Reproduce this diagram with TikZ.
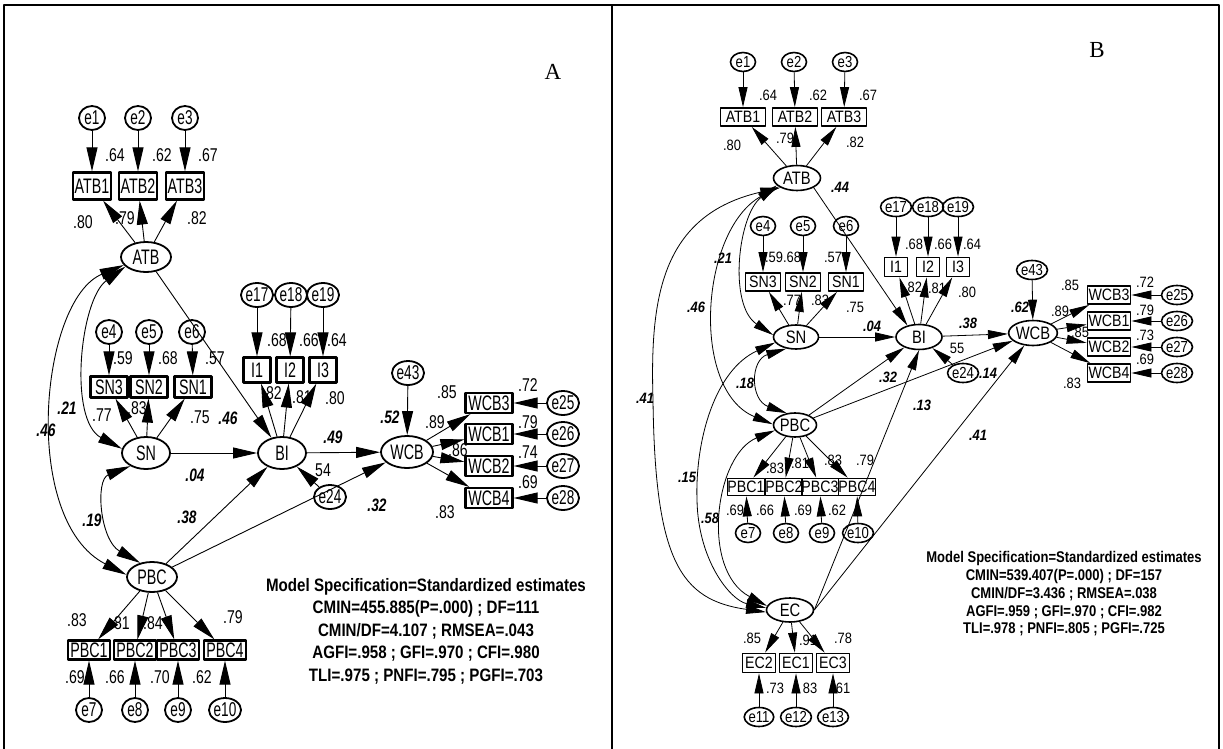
\documentclass[tikz,border=0pt]{standalone}
\usepackage{fontspec}
\setmainfont{Liberation Sans}
\newfontfamily\fa[FakeStretch=0.76]{Liberation Sans}
\newfontfamily\fan[FakeStretch=0.68]{Liberation Sans}
\newfontfamily\fb[FakeStretch=0.86]{Liberation Sans}
\newfontfamily\fbn[FakeStretch=0.82]{Liberation Sans}
\newfontfamily\ft[FakeStretch=0.84]{Liberation Sans}
\newfontfamily\fser{Liberation Serif}
\usetikzlibrary{arrows.meta,shapes.geometric}
\tikzset{
  errA/.style={ellipse,draw,line width=1.8pt,inner sep=0pt,minimum width=26pt,minimum height=24pt,font={\fan\fontsize{20}{20}\selectfont}},
  boxA/.style={rectangle,draw,line width=2.2pt,inner sep=0pt,font={\fan\fontsize{21}{21}\selectfont}},
  latA/.style={ellipse,draw,line width=1.8pt,inner sep=0pt,font={\fan\fontsize{21}{21}\selectfont}},
  numA/.style={inner sep=0pt,font={\fa\fontsize{18.5}{18.5}\selectfont}},
  coefA/.style={inner sep=0pt,font={\fa\bfseries\itshape\fontsize{18}{18}\selectfont}},
  arrA/.style={line width=0.9pt,-{Triangle[length=24pt,width=11pt]}},
  covA/.style={line width=0.9pt,{Triangle[length=24pt,width=11pt]}-{Triangle[length=24pt,width=11pt]}},
  errB/.style={ellipse,draw,line width=1.6pt,inner sep=0pt,minimum width=25pt,minimum height=19pt,font={\fbn\fontsize{16}{16}\selectfont}},
  boxB/.style={rectangle,draw,line width=1.8pt,inner sep=0pt,font={\fb\fontsize{16.5}{16.5}\selectfont}},
  latB/.style={ellipse,draw,line width=1.6pt,inner sep=0pt,font={\fbn\fontsize{18}{18}\selectfont}},
  numB/.style={inner sep=0pt,font={\fb\fontsize{15}{15}\selectfont}},
  coefB/.style={inner sep=0pt,font={\fb\bfseries\itshape\fontsize{15}{15}\selectfont}},
  arrB/.style={line width=0.8pt,-{Triangle[length=20pt,width=9pt]}},
  covB/.style={line width=0.8pt,{Triangle[length=20pt,width=9pt]}-{Triangle[length=20pt,width=9pt]}},
  txtA/.style={inner sep=0pt,font={\ft\bfseries\fontsize{18}{18}\selectfont}},
  txtB/.style={inner sep=0pt,font={\ft\bfseries\fontsize{15.5}{15.5}\selectfont}},
  panel/.style={inner sep=0pt,font={\fser\fontsize{23}{23}\selectfont}}
}
\begin{document}
\begin{tikzpicture}[x=1pt,y=-1pt,line join=round]
\useasboundingbox (0,0) rectangle (1223,749);
\fill[white] (0,0) rectangle (1223,749);
\draw[line width=1.6pt] (4,749) -- (4,5) -- (1219,5) -- (1219,749);
\draw[line width=1.6pt] (612,5) -- (612,749);

% ================= PANEL A =================
\node[panel] (aLab) at (553,72) {A};
\node[errA] (ae1) at (92,118) {e1};
\node[errA] (ae2) at (138,118) {e2};
\node[errA] (ae3) at (185,118) {e3};
\node[boxA,minimum width=38pt,minimum height=27pt] (aATB1) at (92,186) {ATB1};
\node[boxA,minimum width=38pt,minimum height=27pt] (aATB2) at (138,186) {ATB2};
\node[boxA,minimum width=38pt,minimum height=27pt] (aATB3) at (185,186) {ATB3};
\node[latA,minimum width=50pt,minimum height=30pt] (aATB) at (146,257) {ATB};
\node[errA] (ae4) at (109,332) {e4};
\node[errA] (ae5) at (149,332) {e5};
\node[errA] (ae6) at (192,332) {e6};
\node[boxA,minimum width=37pt,minimum height=21pt] (aSN3) at (109,387) {SN3};
\node[boxA,minimum width=37pt,minimum height=21pt] (aSN2) at (149,387) {SN2};
\node[boxA,minimum width=37pt,minimum height=21pt] (aSN1) at (193,387) {SN1};
\node[latA,minimum width=48pt,minimum height=32pt] (aSN) at (146,453) {SN};
\node[latA,minimum width=48pt,minimum height=32pt] (aBI) at (282,453) {BI};
\node[errA] (ae17) at (257,295) {e17};
\node[errA] (ae18) at (291,295) {e18};
\node[errA] (ae19) at (323,295) {e19};
\node[boxA,minimum width=27pt,minimum height=25pt] (aI1) at (257,370) {I1};
\node[boxA,minimum width=27pt,minimum height=25pt] (aI2) at (290,370) {I2};
\node[boxA,minimum width=27pt,minimum height=25pt] (aI3) at (323,370) {I3};
\node[errA] (ae43) at (408,373) {e43};
\node[latA,minimum width=52pt,minimum height=32pt] (aWCB) at (407,452) {WCB};
\node[boxA,minimum width=47pt,minimum height=20pt] (aWCB3) at (489,403) {WCB3};
\node[boxA,minimum width=47pt,minimum height=20pt] (aWCB1) at (489,434) {WCB1};
\node[boxA,minimum width=47pt,minimum height=20pt] (aWCB2) at (489,466) {WCB2};
\node[boxA,minimum width=47pt,minimum height=20pt] (aWCB4) at (489,498) {WCB4};
\node[errA] (ae25) at (563,403) {e25};
\node[errA] (ae26) at (563,434) {e26};
\node[errA] (ae27) at (563,466) {e27};
\node[errA] (ae28) at (563,498) {e28};
\node[errA] (ae24) at (330,497) {e24};
\node[latA,minimum width=50pt,minimum height=30pt] (aPBC) at (152,577) {PBC};
\node[boxA,minimum width=42pt,minimum height=19pt] (aPBC1) at (89,650) {PBC1};
\node[boxA,minimum width=42pt,minimum height=19pt] (aPBC2) at (135,650) {PBC2};
\node[boxA,minimum width=42pt,minimum height=19pt] (aPBC3) at (178,650) {PBC3};
\node[boxA,minimum width=42pt,minimum height=19pt] (aPBC4) at (225,650) {PBC4};
\node[errA] (ae7) at (89,710) {e7};
\node[errA] (ae8) at (135,710) {e8};
\node[errA] (ae9) at (178,710) {e9};
\node[errA] (ae10) at (225,710) {e10};

% arrows A
\draw[arrA] (ae1) -- (aATB1);
\draw[arrA] (ae2) -- (aATB2);
\draw[arrA] (ae3) -- (aATB3);
\draw[arrA] (aATB) -- (aATB1);
\draw[arrA] (aATB) -- (aATB2);
\draw[arrA] (aATB) -- (aATB3);
\draw[arrA] (ae4) -- (aSN3);
\draw[arrA] (ae5) -- (aSN2);
\draw[arrA] (ae6) -- (aSN1);
\draw[arrA] (aSN) -- (aSN3);
\draw[arrA] (aSN) -- (aSN2);
\draw[arrA] (aSN) -- (aSN1);
\draw[arrA] (ae17) -- (aI1);
\draw[arrA] (ae18) -- (aI2);
\draw[arrA] (ae19) -- (aI3);
\draw[arrA] (aBI) -- (aI1);
\draw[arrA] (aBI) -- (aI2);
\draw[arrA] (aBI) -- (aI3);
\draw[arrA] (aATB) -- (aBI);
\draw[arrA] (aSN) -- (aBI);
\draw[arrA] (aPBC) -- (aBI);
\draw[arrA] (ae24) -- (aBI);
\draw[arrA] (aBI) -- (aWCB);
\draw[arrA] (aPBC) -- (aWCB);
\draw[arrA] (ae43) -- (aWCB);
\draw[arrA] (aWCB) -- (aWCB3);
\draw[arrA] (aWCB) -- (aWCB1);
\draw[arrA] (aWCB) -- (aWCB2);
\draw[arrA] (aWCB) -- (aWCB4);
\draw[arrA] (ae25) -- (aWCB3);
\draw[arrA] (ae26) -- (aWCB1);
\draw[arrA] (ae27) -- (aWCB2);
\draw[arrA] (ae28) -- (aWCB4);
\draw[arrA] (aPBC) -- (aPBC1);
\draw[arrA] (aPBC) -- (aPBC2);
\draw[arrA] (aPBC) -- (aPBC3);
\draw[arrA] (aPBC) -- (aPBC4);
\draw[arrA] (ae7) -- (aPBC1);
\draw[arrA] (ae8) -- (aPBC2);
\draw[arrA] (ae9) -- (aPBC3);
\draw[arrA] (ae10) -- (aPBC4);
\draw[covA] (aATB.205) .. controls (80,300) and (68,420) .. (aSN.170);
\draw[covA] (aATB.200) .. controls (40,300) and (20,520) .. (aPBC.175);
\draw[covA] (aSN.220) .. controls (95,480) and (100,540) .. (aPBC.130);

% numbers A
\node[numA] (aN1) at (115,155) {.64};
\node[numA] (aN2) at (162,155) {.62};
\node[numA] (aN3) at (208,155) {.67};
\node[numA] (aN4) at (83,222) {.80};
\node[numA] (aN5) at (125,218) {.79};
\node[numA] (aN6) at (197,218) {.82};
\node[numA] (aN7) at (123,358) {.59};
\node[numA] (aN8) at (168,358) {.68};
\node[numA] (aN9) at (215,358) {.57};
\node[numA] (aN10) at (102,415) {.77};
\node[numA] (aN11) at (137,408) {.83};
\node[numA] (aN12) at (200,417) {.75};
\node[numA] (aN13) at (277,340) {.68};
\node[numA] (aN14) at (309,340) {.66};
\node[numA] (aN15) at (337,340) {.64};
\node[numA] (aN16) at (272,393) {.82};
\node[numA] (aN17) at (302,397) {.81};
\node[numA] (aN18) at (335,398) {.80};
\node[numA] (aN19) at (323,470) {54};
\node[numA] (aN20) at (447,392) {.85};
\node[numA] (aN21) at (435,422) {.89};
\node[numA] (aN22) at (458,450) {.86};
\node[numA] (aN23) at (445,512) {.83};
\node[numA] (aN24) at (528,385) {.72};
\node[numA] (aN25) at (528,422) {.79};
\node[numA] (aN26) at (528,452) {.74};
\node[numA] (aN27) at (528,482) {.69};
\node[numA] (aN28) at (77,620) {.83};
\node[numA] (aN29) at (120,623) {.81};
\node[numA] (aN30) at (153,623) {.84};
\node[numA] (aN31) at (233,617) {.79};
\node[numA] (aN32) at (75,677) {.69};
\node[numA] (aN33) at (115,677) {.66};
\node[numA] (aN34) at (160,677) {.70};
\node[numA] (aN35) at (202,677) {.62};
\node[coefA] (aC1) at (67,408) {.21};
\node[coefA] (aC2) at (228,418) {.46};
\node[coefA] (aC3) at (195,475) {.04};
\node[coefA] (aC4) at (333,437) {.49};
\node[coefA] (aC5) at (390,417) {.52};
\node[coefA] (aC6) at (377,505) {.32};
\node[coefA] (aC7) at (187,517) {.38};
\node[coefA] (aC8) at (92,520) {.19};
\node[coefA] (aC9) at (46,430) {.46};

\node[txtA] (aT1) at (426,587) {Model Specification=Standardized estimates};
\node[txtA] (aT2) at (426,609) {CMIN=455.885(P=.000) ; DF=111};
\node[txtA] (aT3) at (426,631) {CMIN/DF=4.107 ; RMSEA=.043};
\node[txtA] (aT4) at (426,654) {AGFI=.958 ; GFI=.970 ; CFI=.980};
\node[txtA] (aT5) at (426,677) {TLI=.975 ; PNFI=.795 ; PGFI=.703};

% ================= PANEL B =================
\node[panel] (bLab) at (1097,50) {B};
\node[errB] (be1) at (743,62) {e1};
\node[errB] (be2) at (794,62) {e2};
\node[errB] (be3) at (845,62) {e3};
\node[boxB,minimum width=45pt,minimum height=18pt] (bATB1) at (743,117) {ATB1};
\node[boxB,minimum width=45pt,minimum height=18pt] (bATB2) at (795,117) {ATB2};
\node[boxB,minimum width=45pt,minimum height=18pt] (bATB3) at (844,117) {ATB3};
\node[latB,minimum width=47pt,minimum height=25pt] (bATB) at (797,178) {ATB};
\node[errB] (be4) at (763,226) {e4};
\node[errB] (be5) at (803,226) {e5};
\node[errB] (be6) at (846,226) {e6};
\node[boxB,minimum width=35pt,minimum height=18pt] (bSN3) at (763,282) {SN3};
\node[boxB,minimum width=35pt,minimum height=18pt] (bSN2) at (803,282) {SN2};
\node[boxB,minimum width=35pt,minimum height=18pt] (bSN1) at (846,282) {SN1};
\node[latB,minimum width=45pt,minimum height=24pt] (bSN) at (796,337) {SN};
\node[errB] (be17) at (896,207) {e17};
\node[errB] (be18) at (928,207) {e18};
\node[errB] (be19) at (958,207) {e19};
\node[boxB,minimum width=23pt,minimum height=19pt] (bI1) at (896,267) {I1};
\node[boxB,minimum width=23pt,minimum height=19pt] (bI2) at (928,267) {I2};
\node[boxB,minimum width=23pt,minimum height=19pt] (bI3) at (958,267) {I3};
\node[latB,minimum width=46pt,minimum height=25pt] (bBI) at (919,337) {BI};
\node[errB] (be43) at (1032,270) {e43};
\node[latB,minimum width=47pt,minimum height=25pt] (bWCB) at (1033,333) {WCB};
\node[boxB,minimum width=43pt,minimum height=18pt] (bWCB3) at (1109,295) {WCB3};
\node[boxB,minimum width=43pt,minimum height=18pt] (bWCB1) at (1109,321) {WCB1};
\node[boxB,minimum width=43pt,minimum height=18pt] (bWCB2) at (1109,347) {WCB2};
\node[boxB,minimum width=43pt,minimum height=18pt] (bWCB4) at (1109,373) {WCB4};
\node[errB] (be25) at (1177,295) {e25};
\node[errB] (be26) at (1177,321) {e26};
\node[errB] (be27) at (1177,347) {e27};
\node[errB] (be28) at (1177,373) {e28};
\node[errB] (be24) at (963,373) {e24};
\node[latB,minimum width=43pt,minimum height=24pt] (bPBC) at (795,425) {PBC};
\node[boxB,minimum width=32pt,minimum height=17pt] (bPBC1) at (746,487) {PBC1};
\node[boxB,minimum width=32pt,minimum height=17pt] (bPBC2) at (784,487) {PBC2};
\node[boxB,minimum width=32pt,minimum height=17pt] (bPBC3) at (820,487) {PBC3};
\node[boxB,minimum width=32pt,minimum height=17pt] (bPBC4) at (857,487) {PBC4};
\node[errB] (be7) at (748,533) {e7};
\node[errB] (be8) at (786,533) {e8};
\node[errB] (be9) at (822,533) {e9};
\node[errB] (be10) at (858,533) {e10};
\node[latB,minimum width=47pt,minimum height=24pt] (bEC) at (790,610) {EC};
\node[boxB,minimum width=33pt,minimum height=19pt] (bEC2) at (759,663) {EC2};
\node[boxB,minimum width=33pt,minimum height=19pt] (bEC1) at (796,663) {EC1};
\node[boxB,minimum width=33pt,minimum height=19pt] (bEC3) at (833,663) {EC3};
\node[errB] (be11) at (759,717) {e11};
\node[errB] (be12) at (796,717) {e12};
\node[errB] (be13) at (833,717) {e13};

% arrows B
\draw[arrB] (be1) -- (bATB1);
\draw[arrB] (be2) -- (bATB2);
\draw[arrB] (be3) -- (bATB3);
\draw[arrB] (bATB) -- (bATB1);
\draw[arrB] (bATB) -- (bATB2);
\draw[arrB] (bATB) -- (bATB3);
\draw[arrB] (be4) -- (bSN3);
\draw[arrB] (be5) -- (bSN2);
\draw[arrB] (be6) -- (bSN1);
\draw[arrB] (bSN) -- (bSN3);
\draw[arrB] (bSN) -- (bSN2);
\draw[arrB] (bSN) -- (bSN1);
\draw[arrB] (be17) -- (bI1);
\draw[arrB] (be18) -- (bI2);
\draw[arrB] (be19) -- (bI3);
\draw[arrB] (bBI) -- (bI1);
\draw[arrB] (bBI) -- (bI2);
\draw[arrB] (bBI) -- (bI3);
\draw[arrB] (bATB.-30) -- (bBI.135);
\draw[arrB] (bSN) -- (bBI);
\draw[arrB] (bPBC) -- (bBI);
\draw[arrB] (bEC.east) -- (bBI.south);
\draw[arrB] (be24) -- (bBI);
\draw[arrB] (bBI) -- (bWCB);
\draw[arrB] (bPBC) -- (bWCB);
\draw[arrB] (bEC.east) -- (bWCB.235);
\draw[arrB] (be43) -- (bWCB);
\draw[arrB] (bWCB) -- (bWCB3);
\draw[arrB] (bWCB) -- (bWCB1);
\draw[arrB] (bWCB) -- (bWCB2);
\draw[arrB] (bWCB) -- (bWCB4);
\draw[arrB] (be25) -- (bWCB3);
\draw[arrB] (be26) -- (bWCB1);
\draw[arrB] (be27) -- (bWCB2);
\draw[arrB] (be28) -- (bWCB4);
\draw[arrB] (bPBC) -- (bPBC1);
\draw[arrB] (bPBC) -- (bPBC2);
\draw[arrB] (bPBC) -- (bPBC3);
\draw[arrB] (bPBC) -- (bPBC4);
\draw[arrB] (be7) -- (bPBC1);
\draw[arrB] (be8) -- (bPBC2);
\draw[arrB] (be9) -- (bPBC3);
\draw[arrB] (be10) -- (bPBC4);
\draw[arrB] (bEC) -- (bEC2);
\draw[arrB] (bEC) -- (bEC1);
\draw[arrB] (bEC) -- (bEC3);
\draw[arrB] (be11) -- (bEC2);
\draw[arrB] (be12) -- (bEC1);
\draw[arrB] (be13) -- (bEC3);
\draw[covB] (bATB.200) .. controls (738,215) and (728,305) .. (bSN.175);
\draw[covB] (bATB.205) .. controls (700,230) and (690,390) .. (bPBC.178);
\draw[covB] (bATB.210) .. controls (660,215) and (650,300) .. (653,400) .. controls (655,560) and (680,600) .. (bEC.185);
\draw[covB] (bSN.230) .. controls (750,360) and (750,400) .. (bPBC.125);
\draw[covB] (bSN.195) .. controls (715,370) and (695,440) .. (697,500) .. controls (698,560) and (730,600) .. (bEC.175);
\draw[covB] (bPBC.195) .. controls (715,455) and (700,570) .. (bEC.170);

% numbers B
\node[numB] (bN1) at (768,95) {.64};
\node[numB] (bN2) at (818,95) {.62};
\node[numB] (bN3) at (868,95) {.67};
\node[numB] (bN4) at (732,145) {.80};
\node[numB] (bN5) at (785,138) {.79};
\node[numB] (bN6) at (855,142) {.82};
\node[numB] (bN7) at (774,257) {.59};
\node[numB] (bN8) at (792,257) {.68};
\node[numB] (bN9) at (833,257) {.57};
\node[numB] (bN10) at (792,300) {.77};
\node[numB] (bN11) at (820,300) {.83};
\node[numB] (bN12) at (855,307) {.75};
\node[numB] (bN13) at (914,244) {.68};
\node[numB] (bN14) at (943,244) {.66};
\node[numB] (bN15) at (972,244) {.64};
\node[numB] (bN16) at (913,287) {.82};
\node[numB] (bN17) at (937,288) {.81};
\node[numB] (bN18) at (967,292) {.80};
\node[numB] (bN19) at (957,348) {55};
\node[numB] (bN20) at (1070,285) {.85};
\node[numB] (bN21) at (1060,311) {.89};
\node[numB] (bN22) at (1080,332) {.85};
\node[numB] (bN23) at (1072,383) {.83};
\node[numB] (bN24) at (1145,282) {.72};
\node[numB] (bN25) at (1145,310) {.79};
\node[numB] (bN26) at (1145,335) {.73};
\node[numB] (bN27) at (1145,359) {.69};
\node[numB] (bN28) at (775,468) {.83};
\node[numB] (bN29) at (800,463) {.81};
\node[numB] (bN30) at (833,460) {.83};
\node[numB] (bN31) at (865,460) {.79};
\node[numB] (bN32) at (735,510) {.69};
\node[numB] (bN33) at (765,510) {.66};
\node[numB] (bN34) at (803,510) {.69};
\node[numB] (bN35) at (837,510) {.62};
\node[numB] (bN36) at (752,638) {.85};
\node[numB] (bN37) at (808,640) {.91};
\node[numB] (bN38) at (843,638) {.78};
\node[numB] (bN39) at (775,688) {.73};
\node[numB] (bN40) at (810,688) {83};
\node[numB] (bN41) at (843,688) {61};
\node[coefB] (bC1) at (840,187) {.44};
\node[coefB] (bC2) at (723,258) {.21};
\node[coefB] (bC3) at (696,307) {.46};
\node[coefB] (bC4) at (645,398) {.41};
\node[coefB] (bC5) at (745,383) {.18};
\node[coefB] (bC6) at (872,326) {.04};
\node[coefB] (bC7) at (888,377) {.32};
\node[coefB] (bC8) at (922,405) {.13};
\node[coefB] (bC9) at (968,323) {.38};
\node[coefB] (bC10) at (1020,307) {.62};
\node[coefB] (bC11) at (988,373) {.14};
\node[coefB] (bC12) at (978,435) {.41};
\node[coefB] (bC13) at (687,477) {.15};
\node[coefB] (bC14) at (710,518) {.58};

\node[txtB] (bT1) at (1064,558) {Model Specification=Standardized estimates};
\node[txtB] (bT2) at (1064,576) {CMIN=539.407(P=.000) ; DF=157};
\node[txtB] (bT3) at (1064,594) {CMIN/DF=3.436 ; RMSEA=.038};
\node[txtB] (bT4) at (1064,612) {AGFI=.959 ; GFI=.970 ; CFI=.982};
\node[txtB] (bT5) at (1064,629) {TLI=.978 ; PNFI=.805 ; PGFI=.725};
\end{tikzpicture}
\end{document}
